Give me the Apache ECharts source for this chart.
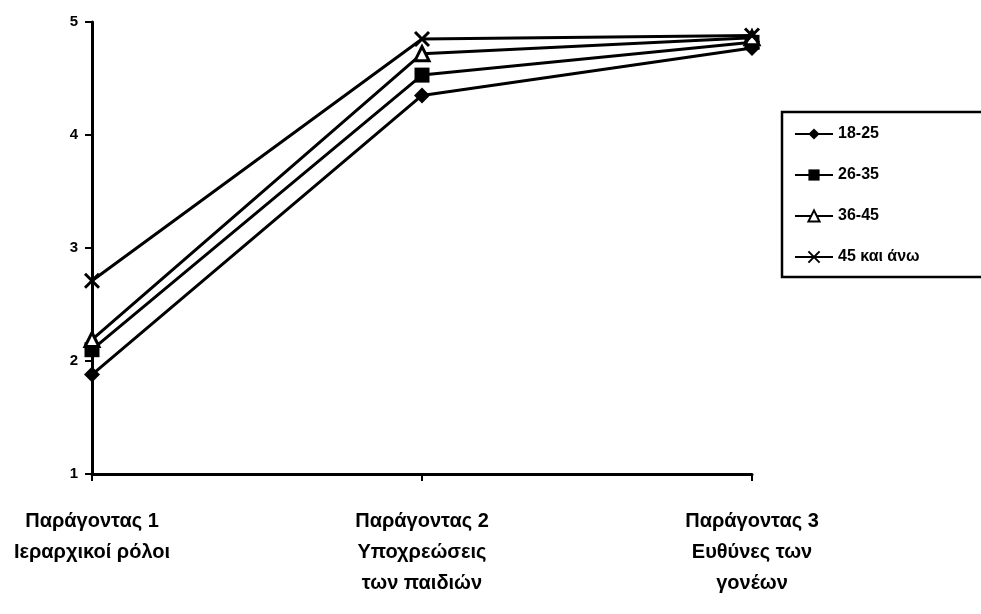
<!DOCTYPE html>
<html>
<head>
<meta charset="utf-8">
<script src="https://cdn.jsdelivr.net/npm/echarts@6/dist/echarts.min.js"></script>
<style>
html,body{margin:0;padding:0;background:#fff;}
#chart{width:981px;height:614px;}
</style>
</head>
<body>
<div id="chart"></div>
<script>
const categories = ['Παράγοντας 1\nΙεραρχικοί ρόλοι', 'Παράγοντας 2\nΥποχρεώσεις\nτων παιδιών', 'Παράγοντας 3\nΕυθύνες των\nγονέων'];
const seriesNames = ['18-25', '26-35', '36-45', '45 και άνω'];
const age18_25 = [1.88, 4.35, 4.77];
const age26_35 = [2.1, 4.53, 4.82];
const age36_45 = [2.19, 4.72, 4.86];
const age45plus = [2.71, 4.85, 4.88];
const yTicks = [1, 2, 3, 4, 5];

const FONT = 'Liberation Sans';
const CROSS = 'path://M0,0L10,10M10,0L0,10';

function mk(name, data, symbol, size, fill) {
  return {
    name: name,
    type: 'line',
    data: data,
    symbol: symbol,
    symbolSize: size,
    showSymbol: true,
    lineStyle: {color: '#000', width: 3},
    itemStyle: {color: fill, borderColor: '#000', borderWidth: symbol === CROSS ? 3 : (fill === '#fff' ? 3 : 0)},
    emphasis: {disabled: true},
    animation: false,
    z: 3
  };
}

const chart = echarts.init(document.getElementById('chart'));
chart.setOption({
  backgroundColor: '#fff',
  animation: false,
  grid: {left: 92, right: 229, top: 22, bottom: 140, containLabel: false},
  legend: {
    orient: 'vertical',
    left: 782,
    top: 112,
    padding: [14, 80, 12, 12],
    itemGap: 25,
    itemWidth: 38,
    itemHeight: 14,
    borderColor: '#000',
    borderWidth: 2.5,
    textStyle: {fontFamily: FONT, fontWeight: 'bold', fontSize: 16, color: '#000'},
    data: seriesNames
  },
  xAxis: {
    type: 'category',
    data: categories,
    boundaryGap: false,
    axisLine: {lineStyle: {color: '#000', width: 3}},
    axisTick: {show: true, length: 7, lineStyle: {color: '#000', width: 2}},
    axisLabel: {fontFamily: FONT, fontWeight: 'bold', fontSize: 20, color: '#000', margin: 32, lineHeight: 31}
  },
  yAxis: {
    type: 'value',
    min: 1,
    max: 5,
    interval: 1,
    splitLine: {show: false},
    axisLine: {show: true, lineStyle: {color: '#000', width: 3}},
    axisTick: {show: true, length: 7, lineStyle: {color: '#000', width: 2}},
    axisLabel: {fontFamily: FONT, fontWeight: 'bold', fontSize: 15, color: '#000', margin: 14,
      formatter: function (v) { return yTicks.indexOf(v) >= 0 ? String(v) : ''; }}
  },
  series: [
    mk(seriesNames[0], age18_25, 'diamond', 16, '#000'),
    mk(seriesNames[1], age26_35, 'rect', 15, '#000'),
    mk(seriesNames[2], age36_45, 'triangle', 14, '#fff'),
    mk(seriesNames[3], age45plus, CROSS, 14, '#000')
  ]
});
</script>
</body>
</html>
